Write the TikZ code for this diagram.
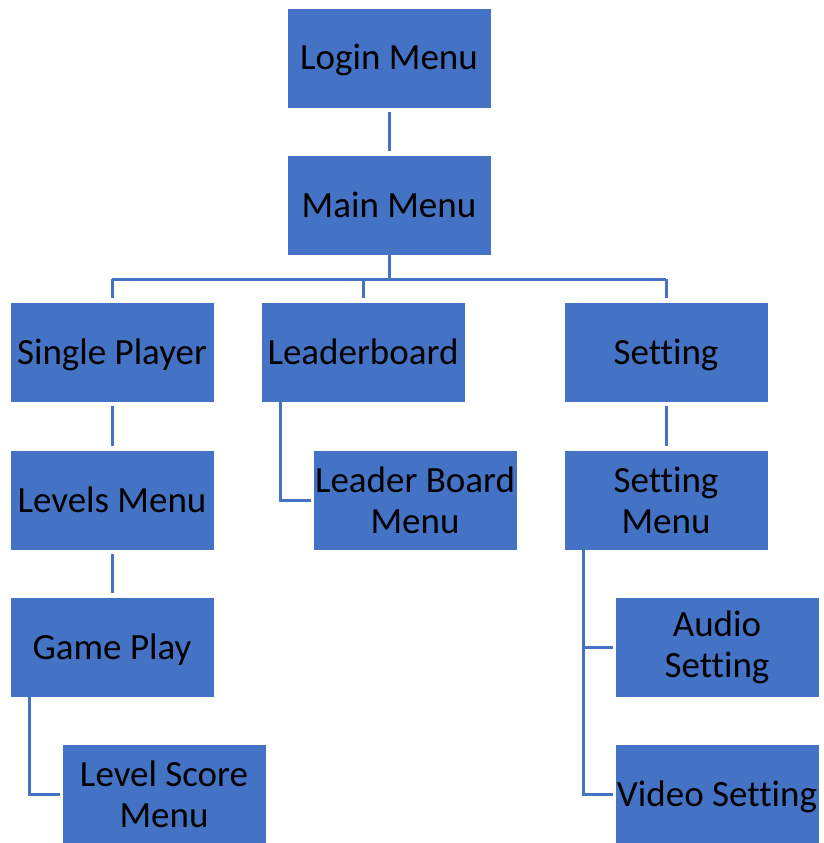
\documentclass[tikz,border=0pt]{standalone}
\usepackage{fontspec}
\setmainfont[Ligatures=NoCommon]{Carlito}
\definecolor{boxblue}{HTML}{4472C4}
\begin{document}
\begin{tikzpicture}[x=1pt,y=-1pt,
  menubox/.style={draw=white,line width=0.8pt,fill=boxblue,text=black,minimum width=204pt,minimum height=100pt,inner sep=0pt,align=center,font=\fontsize{37}{41}\selectfont},
  oneline/.style={text height=24pt,text depth=0pt},
  twoline/.style={yshift=-1.5pt},
  link/.style={draw=boxblue,line width=3pt,shorten <=4pt,shorten >=4pt},
  elbow/.style={draw=boxblue,line width=3pt}]
\useasboundingbox (0,0) rectangle (823,843);
\node[menubox,oneline] (login) at (389,58) {Login Menu};
\node[menubox,oneline] (main) at (389,205) {Main Menu};
\node[menubox,oneline] (single) at (112,352) {Single Player};
\node[menubox,oneline] (leader) at (363,352) {Leaderboard};
\node[menubox,oneline] (setting) at (666,352) {Setting};
\node[menubox,oneline] (levels) at (112,500) {Levels Menu};
\node[menubox] (lbmenu) at (415,500) {Leader Board\\Menu};
\node[menubox] (smenu) at (666,500) {Setting\\Menu};
\node[menubox,oneline] (game) at (112,647) {Game Play};
\node[menubox] (audio) at (717,647) {Audio\\Setting};
\node[menubox] (lscore) at (164,794) {Level Score\\Menu};
\node[menubox,oneline] (video) at (717,794) {Video Setting};
\coordinate (bus) at (389,279);
\draw[link] (login) -- (main);
\draw[elbow] ([yshift=4pt]main.south) -- (bus);
\draw[elbow] (single.north |- bus) -- (setting.north |- bus);
\draw[link,shorten <=0pt] (single.north |- bus) -- (single.north);
\draw[link,shorten <=0pt] (leader.north |- bus) -- (leader.north);
\draw[link,shorten <=0pt] (setting.north |- bus) -- (setting.north);
\draw[link] (single) -- (levels);
\draw[link] (levels) -- (game);
\draw[link] (setting) -- (smenu);
\coordinate (lbx) at (280,402);
\draw[elbow] ([yshift=4pt]lbx) |- ([xshift=-2pt]lbmenu.west);
\coordinate (gpx) at (29,697);
\draw[elbow] ([yshift=4pt]gpx) |- ([xshift=-2pt]lscore.west);
\coordinate (smx) at (583,550);
\draw[elbow] ([yshift=4pt]smx) |- ([xshift=-2pt]video.west);
\draw[elbow] (smx |- audio.west) -- ([xshift=-2pt]audio.west);
\end{tikzpicture}
\end{document}
